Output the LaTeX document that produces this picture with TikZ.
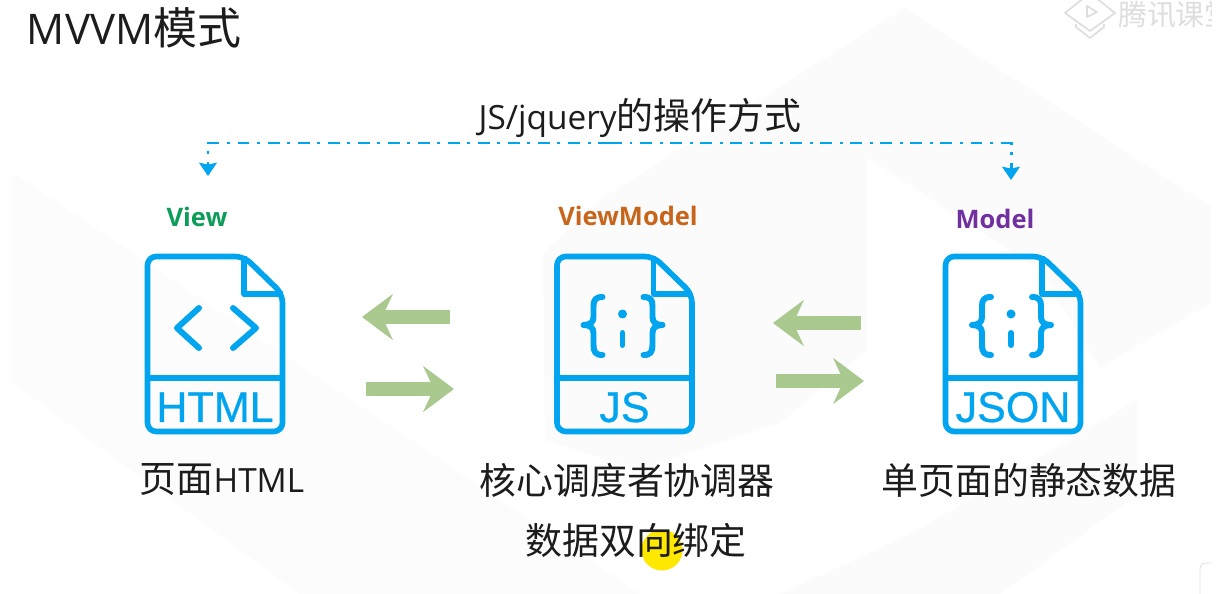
\documentclass[tikz,border=0pt]{standalone}
\usepackage{fontspec}
\setmainfont{Open Sans}
\newfontfamily\cjk{Noto Sans CJK SC}
\newfontfamily\icontype[FakeBold=0.6]{Liberation Sans}
\usepackage{xcolor}
\definecolor{iconblue}{HTML}{00A4EF}
\definecolor{arrowgreen}{HTML}{A9C98F}
\definecolor{viewgreen}{HTML}{0E9D58}
\definecolor{vmorange}{HTML}{C8651B}
\definecolor{modelpurple}{HTML}{7030A0}
\definecolor{inkblack}{HTML}{1C1C1C}
\definecolor{markgray}{HTML}{DEDEDE}
\definecolor{backgray}{HTML}{FBFBFB}
\definecolor{fadegray}{HTML}{FCFCFC}
\definecolor{penyellow}{HTML}{FFE800}
\usetikzlibrary{arrows.meta,positioning}
\tikzset{
  pics/doc_icon/.style={code={
    \draw[icon_line, rounded corners=5] (-67.5,-87.5) -- (29,-87.5) -- (67.5,-50) -- (67.5,87.5) -- (-67.5,87.5) -- cycle;
    \draw[icon_line] (29,-87.5) -- (29,-50) -- (67.5,-50);
    \draw[icon_line] (-67.5,34) -- (67.5,34);
    \node[icon_text] at (0,78) {#1};
  }},
  pics/angle_glyph/.style={code={
    \draw[glyph_line] (-16,-36) -- (-38,-16) -- (-16,4);
    \draw[glyph_line] (18,-36) -- (41,-16) -- (18,4);
  }},
  pics/brace_glyph/.style={code={
    \draw[glyph_line] (-22,-47) .. controls (-29,-47) and (-31,-44) .. (-31,-38) -- (-31,-27) .. controls (-31,-22) and (-34,-19) .. (-41,-19) .. controls (-34,-19) and (-31,-16) .. (-31,-11) -- (-31,1) .. controls (-31,8) and (-29,11) .. (-22,11);
    \draw[glyph_line] (19,-47) .. controls (26,-47) and (28,-44) .. (28,-38) -- (28,-27) .. controls (28,-22) and (31,-19) .. (38,-19) .. controls (31,-19) and (28,-16) .. (28,-11) -- (28,1) .. controls (28,8) and (26,11) .. (19,11);
    \fill[iconblue] (-2,-30) circle (4.5);
    \draw[glyph_line] (-2,-11) -- (-2,1);
  }}
}
\begin{document}
\begin{tikzpicture}[
    x=0.02cm, y=-0.02cm,
    every node/.style={inner sep=0pt, outer sep=0pt, text=inkblack},
    icon_box/.style={minimum width=80pt, minimum height=103pt},
    icon_line/.style={draw=iconblue, line width=3.2pt, line join=round},
    glyph_line/.style={draw=iconblue, line width=3.4pt, line cap=round, line join=round},
    icon_text/.style={anchor=base, font=\fontsize{24.5}{28}\selectfont\icontype, text=iconblue},
    head_label/.style={font=\fontsize{14.5}{17}\selectfont\bfseries},
    caption_label/.style={font=\fontsize{21}{25}\selectfont},
    mark_line/.style={draw=markgray, line width=1pt, line join=round},
    flow_arrow/.style={-{Stealth[length=17.5pt, width=26pt, inset=6pt]}, line width=8pt, arrowgreen},
    link_line/.style={-{Stealth[length=7.5pt, width=10pt, inset=1pt]}, draw=iconblue, line width=1.7pt, dash pattern=on 6.8pt off 4.3pt on 1.7pt off 4.3pt}
]

  % Page and faint watermark bands
  \useasboundingbox (0,0) rectangle (1231,594);
  \fill[white] (0,0) rectangle (1231,594);
  \begin{scope}
    \clip (0,0) rectangle (1211,594);
    \fill[backgray] (905,8) -- (1211,207) -- (1211,303) -- (1100,367) -- (1040,270) -- (867,157) -- (867,350) -- (780,423) -- (640,470) -- (545,440) -- (543,253) -- (600,200) -- cycle;
    \fill[backgray] (780,594) -- (913,533) -- (1137,400) -- (1137,470) -- (1130,500) -- (1000,594) -- cycle;
    \fill[fadegray] (13,173) -- (640,594) -- (300,594) -- (13,383) -- cycle;
    \draw[markgray] (1211,563) -- (1206,563) arc (270:180:6) -- (1200,594);
  \end{scope}

  % Corner mark
  \begin{scope}
    \clip (1060,0) rectangle (1211,60);
    \node[font=\fontsize{16.5}{20}\selectfont\cjk, text=markgray, anchor=west] (mark_text) at (1118,15) {腾讯课堂};
    \draw[mark_line] (1090,-7) -- (1115,13) -- (1090,31) -- (1065,13) -- cycle;
    \draw[mark_line] (1076,24) -- (1076,27) -- (1090,38) -- (1104,27) -- (1104,24);
    \draw[mark_line] (1087,6) -- (1097,12) -- (1087,17) -- cycle;
  \end{scope}

  % Title and upper label
  \node[anchor=west, font=\fontsize{25}{30}\selectfont] (title) at (27,28) {{\fontsize{24}{30}\selectfont MVVM}\cjk 模式};
  \node[caption_label] (way_label) at (640,118) {{\fontsize{19}{25}\selectfont JS/jquery}\cjk 的操作方式};

  % File icons
  \node[icon_box] (view_icon) at (215,344) {};
  \node[icon_box] (vm_icon) at (624.5,344) {};
  \node[icon_box] (model_icon) at (1013,344) {};
  \pic at (view_icon) {doc_icon={HTML}};
  \pic at (view_icon) {angle_glyph};
  \pic at (vm_icon) {doc_icon={JS}};
  \pic at (vm_icon) {brace_glyph};
  \pic at (model_icon) {doc_icon={JSON}};
  \pic at (model_icon) {brace_glyph};

  % Labels above the icons
  \node[head_label, text=viewgreen] (view_label) at (197,217) {View};
  \node[head_label, text=vmorange] (vm_label) at (628,216) {ViewModel};
  \node[head_label, text=modelpurple] (model_label) at (995,219) {Model};

  % Captions
  \node[caption_label] (view_caption) at (222,480) {{\cjk 页面}{\fontsize{19}{25}\selectfont HTML}};
  \fill[penyellow] (662,550) circle (20.5);
  \node[caption_label] (vm_caption) at (627,480) {\cjk 核心调度者协调器};
  \node[caption_label] (bind_caption) at (636,540) {\cjk 数据双向绑定};
  \node[caption_label] (model_caption) at (1029,480) {\cjk 单页面的静态数据};

  % Dash-dot link
  \coordinate (view_tip) at (208,176);
  \coordinate (model_tip) at (1011,180);
  \coordinate (view_turn) at (208,143);
  \coordinate (model_turn) at (1011,143);
  \coordinate (link_mid) at (610,143);
  \draw[link_line] (link_mid) -- (view_turn) -- (view_tip);
  \draw[link_line] (link_mid) -- (model_turn) -- (model_tip);

  % Green arrows
  \coordinate (a_start) at (450,317);
  \coordinate (a_end) at (362,317);
  \coordinate (b_start) at (366,389);
  \coordinate (b_end) at (454,389);
  \coordinate (c_start) at (861,323);
  \coordinate (c_end) at (773,323);
  \coordinate (d_start) at (776,381);
  \coordinate (d_end) at (864,381);
  \draw[flow_arrow] (a_start) -- (a_end);
  \draw[flow_arrow] (b_start) -- (b_end);
  \draw[flow_arrow] (c_start) -- (c_end);
  \draw[flow_arrow] (d_start) -- (d_end);

\end{tikzpicture}
\end{document}
